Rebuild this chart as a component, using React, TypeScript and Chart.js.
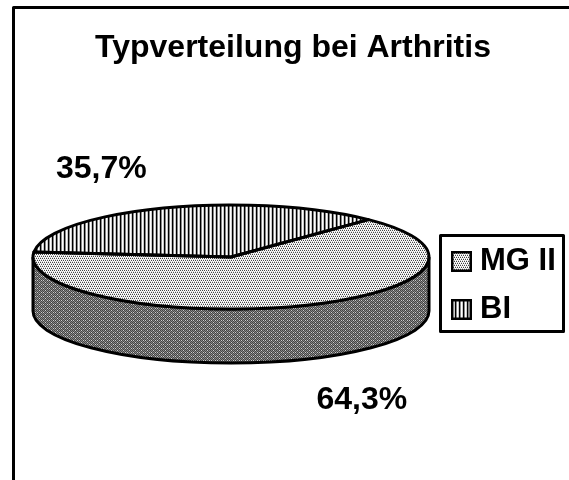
import React, { useEffect, useRef } from "react";
import { Chart, registerables } from "chart.js";

Chart.register(...registerables);

const categories = ["MG II", "BI"];
const values = [64.3, 35.7];
const percentLabels = ["64,3%", "35,7%"];
const titleText = "Typverteilung bei Arthritis";

const SQUASH = 52 / 198;
const DEPTH = 54;

function makeTileCanvas(rows: string[]) {
  const c = document.createElement("canvas");
  c.width = rows[0].length;
  c.height = rows.length;
  const x = c.getContext("2d")!;
  const shade: Record<string, string> = { k: "#000", d: "#444", g: "#888", l: "#ccc", w: "#fff" };
  rows.forEach((r, j) =>
    [...r].forEach((ch, i) => {
      x.fillStyle = shade[ch];
      x.fillRect(i, j, 1, 1);
    })
  );
  return c;
}

function makeTile(rows: string[], matrixScale?: number) {
  const p = document.createElement("canvas").getContext("2d")!.createPattern(makeTileCanvas(rows), "repeat")!;
  if (matrixScale) p.setTransform(new DOMMatrix().scale(1, matrixScale));
  return p;
}

function makeSwatch(rows: string[]) {
  const c = document.createElement("canvas");
  c.width = 21;
  c.height = 21;
  const x = c.getContext("2d")!;
  x.fillStyle = makeTile(rows);
  x.fillRect(0, 0, 21, 21);
  x.strokeStyle = "#000";
  x.lineWidth = 2.5;
  x.strokeRect(1.25, 1.25, 18.5, 18.5);
  return c;
}

const lightRows = ["dwdwdw", "wlwlwl", "wdwdwd", "lwlwlw"];
const darkRows = ["dldgdl", "gdgdgd", "dgdldg", "gdgdgd"];
const stripeRows = ["kgwl"];

const App = () => {
  const ref = useRef<HTMLCanvasElement>(null);
  useEffect(() => {
    const lightSquashed = makeTile(lightRows, 1 / SQUASH);
    const stripeSquashed = makeTile(stripeRows, 1 / SQUASH);
    const dark = makeTile(darkRows);

    const outline = (ctx: CanvasRenderingContext2D, a: any) => {
      ctx.beginPath();
      ctx.moveTo(a.x, a.y);
      ctx.arc(a.x, a.y, a.outerRadius, a.startAngle, a.endAngle);
      ctx.closePath();
    };

    const pie3d = {
      id: "pie3d",
      afterLayout(chart: any) {
        chart.chartArea = { left: 33, right: 429, top: 42, bottom: 438, width: 396, height: 396 };
        const t = chart.titleBlock;
        t.left = 85; t.right = 501; t.top = 29;
        const l = chart.legend;
        const h = l.bottom - l.top;
        l.left = 441.5; l.right = 565; l.top = 229; l.bottom = 229 + h;
      },
      beforeDatasetsDraw(chart: any) {
        const ctx = chart.ctx as CanvasRenderingContext2D;
        const arcs = chart.getDatasetMeta(0).data;
        const cx = arcs[0].x, cy = arcs[0].y, r = arcs[0].outerRadius;
        const targetY = 257;
        const ry = r * SQUASH;
        ctx.save();
        ctx.beginPath();
        ctx.ellipse(cx, targetY, r, ry, 0, 0, Math.PI);
        ctx.lineTo(cx - r, targetY + DEPTH);
        ctx.ellipse(cx, targetY + DEPTH, r, ry, 0, Math.PI, 0, true);
        ctx.closePath();
        ctx.fillStyle = dark;
        ctx.fill();
        ctx.lineWidth = 3;
        ctx.strokeStyle = "#000";
        ctx.stroke();
        ctx.restore();
        ctx.save();
        ctx.translate(0, targetY);
        ctx.scale(1, SQUASH);
        ctx.translate(0, -cy);
      },
      afterDatasetsDraw(chart: any) {
        const ctx = chart.ctx as CanvasRenderingContext2D;
        ctx.restore();
        const arcs = chart.getDatasetMeta(0).data;
        const targetY = 257;
        arcs.forEach((a: any) => {
          ctx.save();
          ctx.translate(0, targetY);
          ctx.scale(1, SQUASH);
          ctx.translate(0, -a.y);
          outline(ctx, a);
          ctx.restore();
          ctx.lineWidth = 3;
          ctx.lineJoin = "round";
          ctx.strokeStyle = "#000";
          ctx.stroke();
        });
      },
      afterDraw(chart: any) {
        const ctx = chart.ctx as CanvasRenderingContext2D;
        ctx.save();
        ctx.strokeStyle = "#000";
        ctx.lineWidth = 3;
        ctx.beginPath();
        ctx.moveTo(13.5, 480);
        ctx.lineTo(13.5, 7.5);
        ctx.lineTo(569, 7.5);
        ctx.stroke();
        ctx.strokeRect(440.5, 235.5, 123, 96);
        ctx.fillStyle = "#000";
        ctx.font = "bold 32px 'Liberation Sans'";
        ctx.textBaseline = "middle";
        ctx.textAlign = "left";
        ctx.fillText(percentLabels[1], 56, 169);
        ctx.fillText(percentLabels[0], 316.5, 400.5);
        ctx.restore();
      },
    };

    const chart = new Chart(ref.current!, {
      type: "pie",
      data: {
        labels: categories,
        datasets: [
          {
            data: values,
            backgroundColor: [lightSquashed, stripeSquashed] as any,
            borderWidth: 0,
          },
        ],
      },
      options: {
        responsive: false,
        animation: false,
        rotation: 44,
        events: [],
        layout: { padding: 0 },
        plugins: {
          tooltip: { enabled: false },
          title: {
            display: true,
            text: titleText,
            color: "#000",
            font: { family: "'Liberation Sans'", size: 32, weight: "bold" },
            padding: 0,
          },
          legend: {
            position: "right",
            align: "start",
            labels: {
              color: "#000",
              font: { family: "'Liberation Sans'", size: 31, weight: "bold" },
              usePointStyle: true,
              pointStyleWidth: 6,
              boxHeight: 21,
              padding: 17,
              generateLabels: () => [
                { text: categories[0], pointStyle: makeSwatch(lightRows), fillStyle: "#fff", strokeStyle: "#000", lineWidth: 0, hidden: false, index: 0 },
                { text: categories[1], pointStyle: makeSwatch(stripeRows), fillStyle: "#fff", strokeStyle: "#000", lineWidth: 0, hidden: false, index: 1 },
              ] as any,
            },
          },
        },
      },
      plugins: [pie3d],
    } as any);
    return () => chart.destroy();
  }, []);
  return (
    <canvas
      ref={ref}
      width={569}
      height={480}
      style={{ position: "fixed", left: 0, top: 0, display: "block", background: "#fff" }}
    />
  );
};

export default App;
